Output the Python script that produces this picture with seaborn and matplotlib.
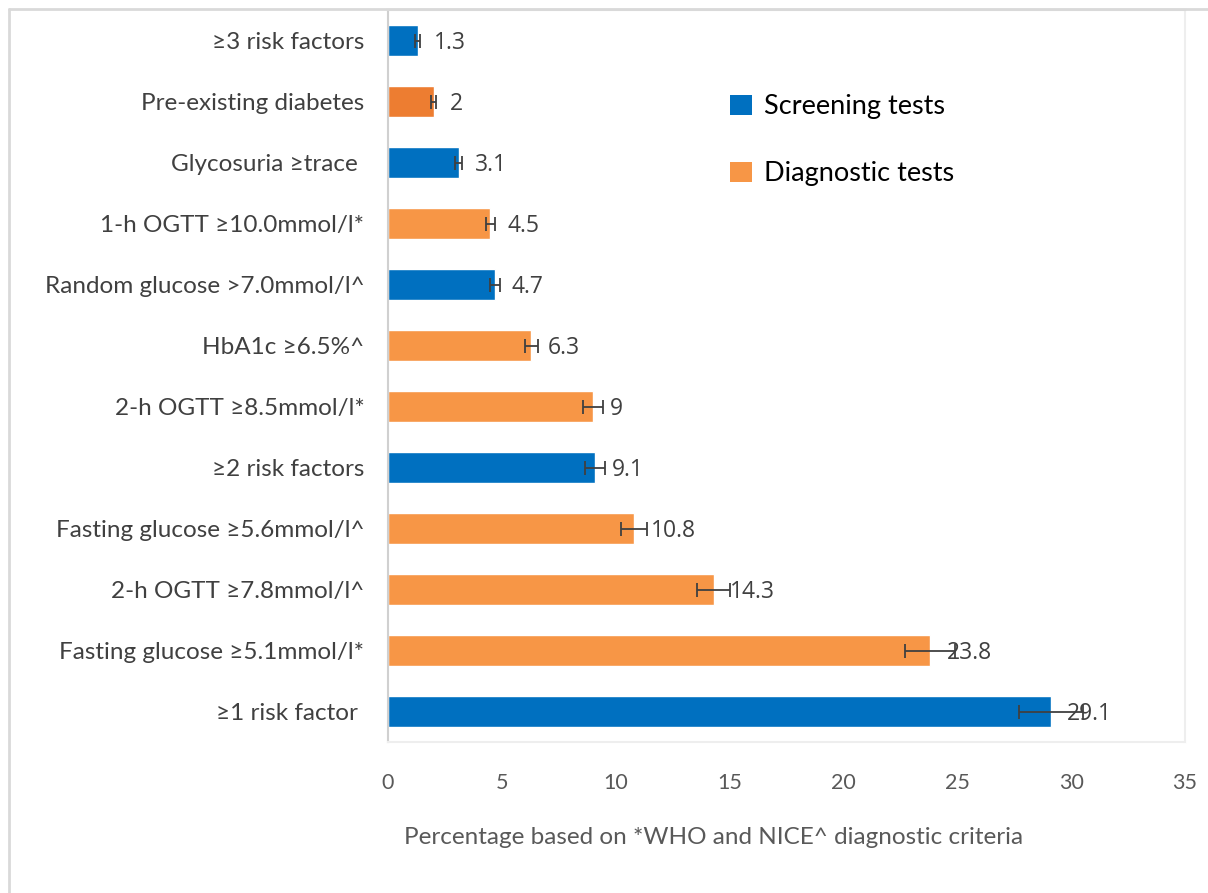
import matplotlib
matplotlib.use("Agg")
import matplotlib.pyplot as plt
import seaborn as sns
import pandas as pd
from matplotlib.patches import Patch
from matplotlib.lines import Line2D

categories = ["≥3 risk factors", "Pre-existing diabetes", "Glycosuria ≥trace ",
              "1-h OGTT ≥10.0mmol/l*", "Random glucose >7.0mmol/l^", "HbA1c ≥6.5%^",
              "2-h OGTT ≥8.5mmol/l*", "≥2 risk factors", "Fasting glucose ≥5.6mmol/l^",
              "2-h OGTT ≥7.8mmol/l^", "Fasting glucose ≥5.1mmol/l*", "≥1 risk factor "]
values = [1.3, 2, 3.1, 4.5, 4.7, 6.3, 9, 9.1, 10.8, 14.3, 23.8, 29.1]
errors = [0.1, 0.1, 0.15, 0.2, 0.2, 0.3, 0.45, 0.45, 0.56, 0.73, 1.1, 1.4]
test_type = ["Screening", "Pre-existing", "Screening", "Diagnostic", "Screening", "Diagnostic",
             "Diagnostic", "Screening", "Diagnostic", "Diagnostic", "Diagnostic", "Screening"]
xticks = [0, 5, 10, 15, 20, 25, 30, 35]
legend_labels = ["Screening tests", "Diagnostic tests"]
xlabel = "Percentage based on *WHO and NICE^ diagnostic criteria"

colors = {"Screening": "#0070C0", "Diagnostic": "#F79646", "Pre-existing": "#ED7D31"}

df = pd.DataFrame({"category": categories, "value": values, "type": test_type})

sns.set_theme(style="white")
plt.rcParams["font.family"] = ["Lato", "DejaVu Sans"]

fig = plt.figure(figsize=(12.08, 8.93), dpi=100)
ax = fig.add_axes([388/1208, 1-742/893, (1185-388)/1208, (742-10)/893])

sns.barplot(data=df, x="value", y="category", hue="type", palette=colors,
            order=categories, orient="h", width=0.5, dodge=False, legend=False, ax=ax,
            saturation=1)

ypos = list(range(len(categories)))
ax.errorbar(values, ypos, xerr=errors, fmt="none", ecolor="#404040",
            elinewidth=1.3, capsize=5, capthick=1.3, zorder=5)

for v, y in zip(values, ypos):
    ax.annotate(f"{v:g}", xy=(v, y), xytext=(12, -1.5), textcoords="offset points",
                va="center", ha="left", fontsize=16.5, color="#404040",
                family=["Open Sans", "DejaVu Sans"], zorder=4)

ax.set_xlim(0, 35)
ax.set_ylim(len(categories) - 0.5, -0.5)
ax.set_xticks(xticks)
ax.set_xticklabels([str(t) for t in xticks])
ax.tick_params(axis="x", length=0, pad=22, labelsize=15.5, labelcolor="#595959")
ax.tick_params(axis="y", length=0, pad=17, labelsize=17.5, labelcolor="#404040")
ax.set_xlabel("")
ax.set_ylabel("")

for side, col in [("left", "#d0d0d0"), ("right", "#eeeeee"), ("bottom", "#eeeeee"), ("top", "#dddddd")]:
    ax.spines[side].set_visible(True)
    ax.spines[side].set_color(col)
    ax.spines[side].set_linewidth(1.5)

handles = [Patch(facecolor=colors["Screening"], edgecolor="none"),
           Patch(facecolor=colors["Diagnostic"], edgecolor="none")]
fig.legend(handles, legend_labels, loc="upper left", bbox_to_anchor=(706/1208, 1-70/893),
           frameon=False, fontsize=19.5, labelspacing=1.55, handlelength=0.8, handleheight=0.8,
           handletextpad=0.45, labelcolor="#000000")

fig.text(714/1208, 1-838/893, xlabel, ha="center", va="center", fontsize=17.5, color="#595959")

# outer frame
fig.add_artist(Line2D([9/1208, 1], [1-9/893, 1-9/893], transform=fig.transFigure,
                      color="#d9d9d9", lw=2))
fig.add_artist(Line2D([9/1208, 9/1208], [0, 1-9/893], transform=fig.transFigure,
                      color="#d9d9d9", lw=2))

fig.savefig("out.png", dpi=100)
